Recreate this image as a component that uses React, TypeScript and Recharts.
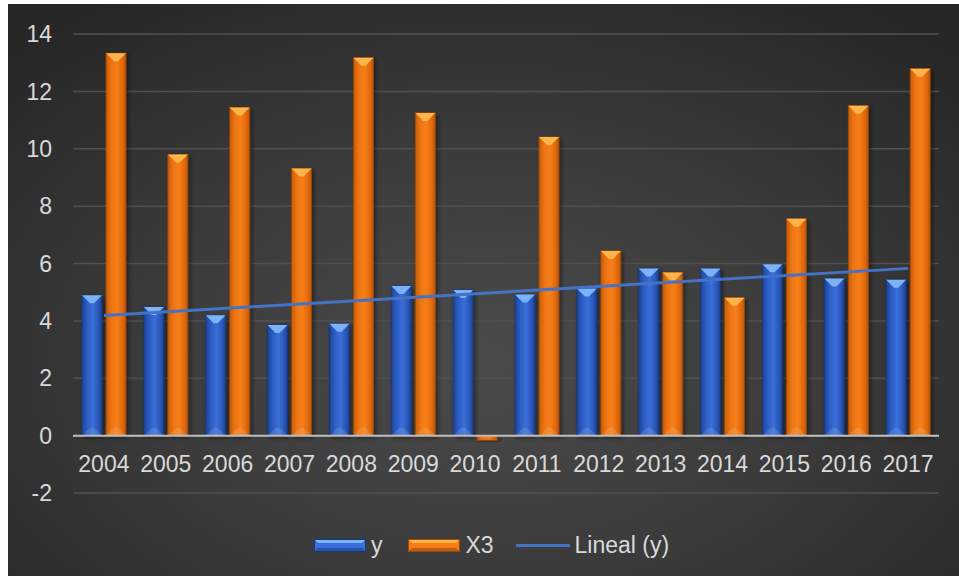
import React from "react";
import {
  Bar,
  CartesianGrid,
  ComposedChart,
  Legend,
  Line,
  ReferenceLine,
  XAxis,
  YAxis,
} from "recharts";

const years = ["2004", "2005", "2006", "2007", "2008", "2009", "2010", "2011", "2012", "2013", "2014", "2015", "2016", "2017"];
const yValues = [4.89, 4.48, 4.2, 3.86, 3.9, 5.22, 5.08, 4.92, 5.13, 5.83, 5.83, 5.97, 5.48, 5.43];
const x3Values = [13.33, 9.8, 11.44, 9.31, 13.17, 11.25, -0.16, 10.41, 6.44, 5.69, 4.81, 7.56, 11.5, 12.79];
// linear trend of y, only the two ends are needed
const trendLine = [4.19, null, null, null, null, null, null, null, null, null, null, null, null, 5.83];
const yTicks = [-2, 0, 2, 4, 6, 8, 10, 12, 14];

const data = years.map((year, i) => ({
  year,
  y: yValues[i],
  X3: x3Values[i],
  trend: trendLine[i],
}));

const FONT = "'Liberation Sans', Arial, sans-serif";
const TEXT = "#d9d9d9";
const TREND = "#4472c4";

const BLUE = { body: "url(#blueBody)", top: "#7cb3f7", edge: "#17387c", swatch: "#3a6fd8" };
const ORANGE = { body: "url(#orangeBody)", top: "#ffb54c", edge: "#9c4806", swatch: "#f57d17" };

type Palette = typeof BLUE;

function BevelBar(props: any) {
  const { palette } = props as { palette: Palette };
  let { x, y, width, height } = props as { x: number; y: number; width: number; height: number };
  if (height == null || width == null) return null;
  if (height < 0) {
    y += height;
    height = -height;
  }
  const bevel = Math.min(8, height * 0.4);
  const cx = x + width / 2;
  return (
    <g filter="url(#barShadow)">
      <rect x={x} y={y} width={width} height={height} fill={palette.body} stroke={palette.edge} strokeWidth={0.8} />
      {height > 12 && (
        <>
          <polygon
            points={`${x},${y} ${x + width},${y} ${cx + 2},${y + bevel} ${cx - 2},${y + bevel}`}
            fill={palette.top}
          />
          <polygon
            points={`${x},${y + height} ${x + width},${y + height} ${cx + 2},${y + height - bevel} ${cx - 2},${y + height - bevel}`}
            fill="#ffffff"
            opacity={0.12}
          />
        </>
      )}
    </g>
  );
}

function YearTick(props: any) {
  const { x, y, payload } = props;
  return (
    <text x={x} y={y - 21} textAnchor="middle" fill={TEXT} fontSize={23} fontFamily={FONT}>
      {payload.value}
    </text>
  );
}

function BarSwatch({ palette }: { palette: Palette }) {
  return (
    <svg width={52} height={13} style={{ display: "block" }}>
      <rect x={0.5} y={0.5} width={51} height={12} fill={palette.swatch} stroke={palette.edge} />
      <polygon points="1,1 51,1 48,4 4,4" fill={palette.top} />
      <polygon points="1,12 51,12 48,9 4,9" fill="#000" opacity={0.25} />
    </svg>
  );
}

function ChartLegend() {
  return (
    <div
      style={{
        display: "flex",
        justifyContent: "center",
        alignItems: "center",
        height: 30,
        paddingLeft: 36,
        color: TEXT,
        fontFamily: FONT,
        fontSize: 23,
      }}
    >
      <BarSwatch palette={BLUE} />
      <span style={{ marginLeft: 5, marginRight: 26 }}>y</span>
      <BarSwatch palette={ORANGE} />
      <span style={{ marginLeft: 5, marginRight: 22 }}>X3</span>
      <svg width={54} height={13} style={{ display: "block" }}>
        <line x1={0} y1={6.5} x2={54} y2={6.5} stroke={TREND} strokeWidth={3} />
      </svg>
      <span style={{ marginLeft: 5 }}>Lineal (y)</span>
    </div>
  );
}

export default function App() {
  return (
    <div
      style={{
        position: "absolute",
        top: 4,
        left: 8,
        width: 951,
        height: 572,
        background: "radial-gradient(ellipse 70% 75% at 50% 62%, #4b4b4b 0%, #3b3b3b 50%, #272727 100%)",
      }}
    >
      <ComposedChart
        width={951}
        height={572}
        data={data}
        margin={{ top: 30, right: 20, left: 0, bottom: 16 }}
        barSize={20}
        barGap={4}
      >
        <defs>
          <linearGradient id="blueBody" x1="0" y1="0" x2="1" y2="0">
            <stop offset="0%" stopColor="#1c4496" />
            <stop offset="25%" stopColor="#2b5cc2" />
            <stop offset="55%" stopColor="#3a6fd8" />
            <stop offset="85%" stopColor="#2955b6" />
            <stop offset="100%" stopColor="#1a3f8c" />
          </linearGradient>
          <linearGradient id="orangeBody" x1="0" y1="0" x2="1" y2="0">
            <stop offset="0%" stopColor="#c65c0a" />
            <stop offset="25%" stopColor="#ec7412" />
            <stop offset="55%" stopColor="#f77f18" />
            <stop offset="85%" stopColor="#de670c" />
            <stop offset="100%" stopColor="#b85408" />
          </linearGradient>
          <filter id="barShadow" x="-30%" y="-10%" width="160%" height="130%">
            <feDropShadow dx={2} dy={2} stdDeviation={2} floodColor="#000" floodOpacity={0.45} />
          </filter>
        </defs>
        <CartesianGrid vertical={false} stroke="#505050" strokeWidth={1.5} />
        <XAxis
          dataKey="year"
          height={37}
          axisLine={false}
          tickLine={false}
          tickSize={0}
          tickMargin={0}
          interval={0}
          tick={<YearTick />}
        />
        <YAxis
          domain={[-2, 14]}
          ticks={yTicks}
          width={65}
          axisLine={false}
          tickLine={false}
          tickSize={0}
          tickMargin={21}
          tick={{ fill: TEXT, fontSize: 23, fontFamily: FONT }}
        />
        <ReferenceLine y={0} stroke="#bfbfbf" strokeWidth={2} />
        <Bar dataKey="y" isAnimationActive={false} shape={(p: any) => <BevelBar {...p} palette={BLUE} />} />
        <Bar dataKey="X3" isAnimationActive={false} shape={(p: any) => <BevelBar {...p} palette={ORANGE} />} />
        <Line
          dataKey="trend"
          name="Lineal (y)"
          stroke={TREND}
          strokeWidth={3}
          dot={false}
          activeDot={false}
          connectNulls
          isAnimationActive={false}
        />
        <Legend verticalAlign="bottom" height={30} content={() => <ChartLegend />} />
      </ComposedChart>
    </div>
  );
}
